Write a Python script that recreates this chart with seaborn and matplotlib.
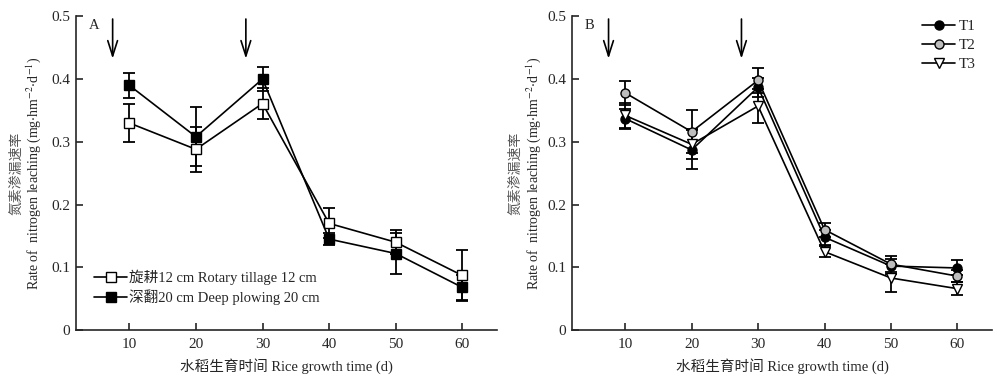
import numpy as np
import pandas as pd
import seaborn as sns
import matplotlib
matplotlib.use("Agg")
import matplotlib.pyplot as plt

days = [10, 20, 30, 40, 50, 60]

# panel A: tillage depth
rotary_mean = [0.330, 0.288, 0.361, 0.170, 0.140, 0.087]
rotary_err = [0.030, 0.036, 0.024, 0.024, 0.019, 0.040]
deep_mean = [0.390, 0.308, 0.400, 0.145, 0.122, 0.068]
deep_err = [0.020, 0.047, 0.019, 0.010, 0.033, 0.020]
labels_a = ["旋耕12 cm Rotary tillage 12 cm", "深翻20 cm Deep plowing 20 cm"]

# panel B: treatments
t1_mean = [0.337, 0.287, 0.387, 0.148, 0.102, 0.099]
t1_err = [0.016, 0.031, 0.015, 0.012, 0.012, 0.012]
t2_mean = [0.378, 0.316, 0.398, 0.160, 0.105, 0.086]
t2_err = [0.019, 0.034, 0.020, 0.011, 0.013, 0.010]
t3_mean = [0.342, 0.296, 0.357, 0.125, 0.083, 0.066]
t3_err = [0.020, 0.024, 0.027, 0.009, 0.022, 0.010]
labels_b = ["T1", "T2", "T3"]

arrow_days = [7.5, 27.5]

sns.set_style("ticks")
plt.rcParams["font.family"] = ["Liberation Serif", "Noto Sans CJK SC"]
plt.rcParams["mathtext.fontset"] = "stix"

fig = plt.figure(figsize=(10, 3.87), dpi=100)
ax_a = fig.add_axes([0.076, 0.147, 0.421, 0.811])
ax_b = fig.add_axes([0.572, 0.147, 0.420, 0.811])


def draw_series(ax, mean, err, label, marker, face, ms):
    df = pd.DataFrame({"day": days, "rate": mean})
    ax.errorbar(days, mean, yerr=err, fmt="none", ecolor="black",
                elinewidth=1.3, capsize=4, capthick=1.3, zorder=2)
    sns.lineplot(data=df, x="day", y="rate", ax=ax, color="black", lw=1.2,
                 marker=marker, markerfacecolor=face, markeredgecolor="black",
                 markeredgewidth=1.0, markersize=ms, label=label, zorder=3)


draw_series(ax_a, rotary_mean, rotary_err, labels_a[0], "s", "white", 6.5)
draw_series(ax_a, deep_mean, deep_err, labels_a[1], "s", "black", 6.5)

draw_series(ax_b, t1_mean, t1_err, labels_b[0], "o", "black", 6.5)
draw_series(ax_b, t2_mean, t2_err, labels_b[1], "o", "#bdbdbd", 6.5)
draw_series(ax_b, t3_mean, t3_err, labels_b[2], "v", "white", 7.5)

for ax, tag, cx, ex in [(ax_a, "A", -0.142, -0.100), (ax_b, "B", -0.135, -0.091)]:
    ax.set_xlim(2, 65.2)
    ax.set_ylim(0, 0.5)
    ax.set_xticks(days)
    ax.set_yticks([0, 0.1, 0.2, 0.3, 0.4, 0.5])
    ax.set_yticklabels(["0", "0.1", "0.2", "0.3", "0.4", "0.5"])
    ax.tick_params(direction="in", length=5, width=1.2, labelsize=11, pad=4)
    ax.tick_params(axis="x", pad=6)
    sns.despine(ax=ax)
    for s in ["left", "bottom"]:
        ax.spines[s].set_linewidth(1.2)
    ax.set_xlabel("水稻生育时间 Rice growth time (d)", fontsize=10.5, labelpad=5)
    ax.set_ylabel("")
    ax.text(cx, 0.5, "氮素渗漏速率", transform=ax.transAxes, rotation=90,
            ha="center", va="center", fontsize=10, color="#555555")
    ax.text(ex, 0.5, r"Rate of  nitrogen leaching (mg$\cdot$hm$^{-2}$$\cdot$d$^{-1}$)",
            transform=ax.transAxes, rotation=90, ha="center", va="center", fontsize=10)
    ax.text(4.7, 0.485, tag, fontsize=10.5, ha="center", va="center")
    for d in arrow_days:
        ax.annotate("", xy=(d, 0.428), xytext=(d, 0.5),
                    arrowprops=dict(arrowstyle="->,head_width=0.35,head_length=1.1",
                                    color="black", lw=1.2))

ax_a.legend(loc="lower left", bbox_to_anchor=(0.03, 0.06), frameon=False,
            fontsize=10.5, handlelength=2.2, handletextpad=0.2, labelspacing=0.3,
            borderaxespad=0)
ax_b.legend(loc="upper right", bbox_to_anchor=(0.975, 1.01), frameon=False,
            fontsize=11, handlelength=2.2, handletextpad=0.2, labelspacing=0.35,
            borderaxespad=0)

fig.savefig("out.png", dpi=100)
